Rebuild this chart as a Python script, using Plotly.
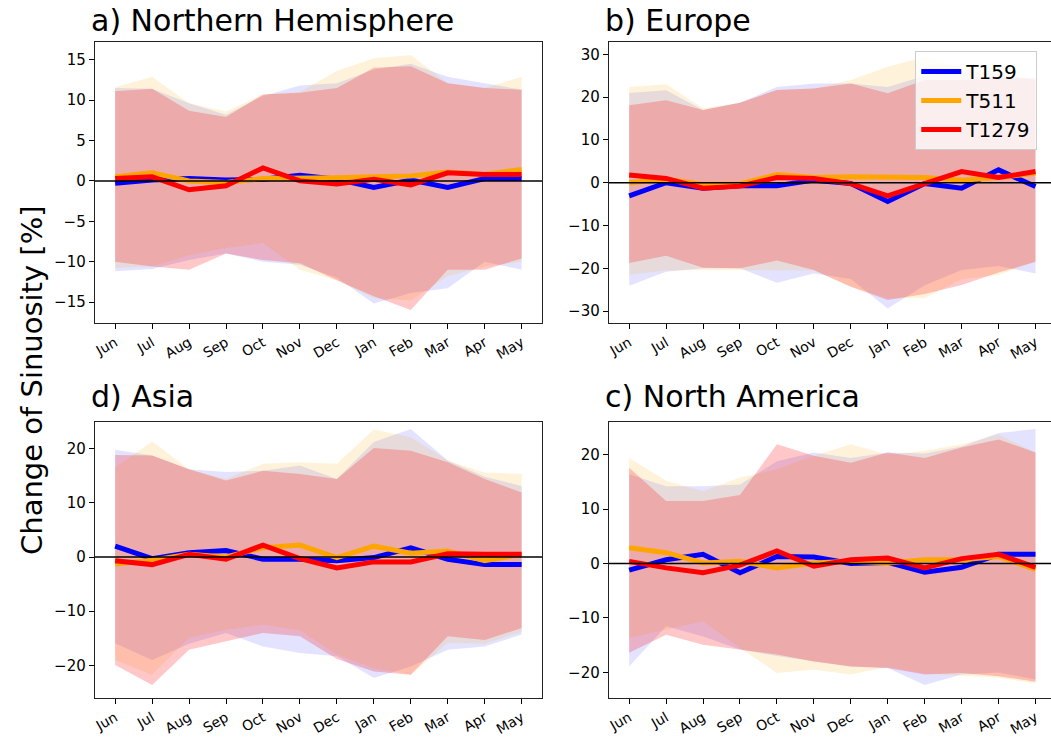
import plotly.graph_objects as go
from plotly.subplots import make_subplots

months = ["Jun", "Jul", "Aug", "Sep", "Oct", "Nov", "Dec", "Jan", "Feb", "Mar", "Apr", "May"]
models = ["T159", "T511", "T1279"]
panel_titles = ["a) Northern Hemisphere", "b) Europe", "d) Asia", "c) North America"]
y_tick_steps = [5, 10, 10, 10]
y_ranges = [[-17.6, 17.2], [-32.8, 32.9], [-26.0, 24.9], [-24.7, 26.0]]

# ---- a) Northern Hemisphere
nh_t159_mean = [-0.3, 0.1, 0.3, 0.1, 0.2, 0.7, 0.2, -0.8, 0.1, -0.8, 0.3, 0.3]
nh_t159_hi = [11.5, 11.4, 9.6, 8.2, 10.5, 11.8, 12.1, 13.8, 14.5, 12.9, 12.1, 11.3]
nh_t159_lo = [-11.2, -10.9, -9.8, -9.0, -10.0, -10.4, -12.0, -15.2, -13.9, -13.3, -10.0, -11.0]
nh_t511_mean = [0.5, 1.0, 0.0, -0.2, 0.3, 0.3, 0.4, 0.5, 0.6, 1.1, 0.8, 1.4]
nh_t511_hi = [11.6, 12.9, 9.6, 8.6, 10.7, 11.0, 13.6, 15.2, 15.6, 12.1, 11.5, 12.9]
nh_t511_lo = [-10.8, -10.6, -9.2, -8.3, -7.7, -11.0, -12.3, -14.5, -14.8, -11.8, -10.6, -10.0]
nh_t1279_mean = [0.3, 0.5, -1.1, -0.6, 1.6, 0.0, -0.4, 0.2, -0.5, 1.0, 0.8, 0.8]
nh_t1279_hi = [11.1, 11.4, 8.7, 7.9, 10.7, 10.9, 11.5, 14.0, 14.2, 12.1, 11.5, 11.3]
nh_t1279_lo = [-10.0, -10.6, -11.0, -9.0, -9.8, -10.2, -12.3, -14.3, -16.0, -11.0, -11.0, -9.6]

# ---- b) Europe
eu_t159_mean = [-3.1, 0.0, -1.3, -0.7, -0.7, 0.6, -0.2, -4.4, -0.2, -1.3, 3.0, -0.9]
eu_t159_hi = [21.0, 21.6, 17.0, 18.7, 22.4, 23.2, 23.2, 22.4, 25.0, 26.0, 25.5, 24.0]
eu_t159_lo = [-24.1, -20.8, -20.0, -20.0, -23.4, -21.2, -22.5, -29.4, -24.0, -20.4, -19.5, -21.2]
eu_t511_mean = [0.0, 0.8, -0.4, -0.3, 1.9, 1.2, 1.4, 1.2, 1.2, 0.6, 1.2, 2.2]
eu_t511_hi = [22.4, 23.0, 17.4, 18.7, 21.7, 22.0, 24.0, 27.1, 29.4, 27.0, 25.0, 24.0]
eu_t511_lo = [-21.5, -20.5, -20.4, -20.4, -20.5, -20.5, -24.3, -27.0, -27.0, -22.5, -21.6, -18.5]
eu_t1279_mean = [1.8, 1.0, -1.3, -0.8, 1.2, 1.0, -0.2, -3.1, -0.2, 2.6, 1.2, 2.6]
eu_t1279_hi = [18.1, 19.3, 17.0, 18.7, 21.7, 22.0, 23.2, 20.9, 24.0, 24.0, 24.5, 24.4]
eu_t1279_lo = [-18.8, -17.1, -19.9, -20.0, -18.2, -20.4, -24.3, -27.4, -26.0, -23.9, -21.0, -18.5]

# ---- d) Asia
as_t159_mean = [2.0, -0.3, 0.8, 1.2, -0.4, -0.4, -0.7, -0.1, 1.7, -0.4, -1.4, -1.4]
as_t159_hi = [19.8, 18.7, 16.2, 15.7, 15.9, 16.9, 14.4, 21.2, 23.6, 17.8, 14.8, 13.1]
as_t159_lo = [-15.9, -19.0, -16.0, -14.0, -16.5, -17.7, -18.3, -22.3, -20.2, -17.1, -16.5, -14.3]
as_t511_mean = [-1.3, -0.6, 0.5, 0.0, 1.7, 2.2, -0.1, 2.0, 0.7, 1.1, -0.7, 0.5]
as_t511_hi = [16.5, 21.3, 16.2, 14.4, 17.2, 17.5, 17.2, 23.5, 22.1, 17.8, 15.6, 15.3]
as_t511_lo = [-19.0, -21.7, -14.9, -13.4, -12.5, -13.5, -18.0, -20.5, -21.7, -15.8, -16.0, -13.8]
as_t1279_mean = [-0.7, -1.4, 0.5, -0.4, 2.2, -0.3, -2.0, -0.9, -0.9, 0.6, 0.5, 0.5]
as_t1279_hi = [18.8, 18.7, 16.2, 14.1, 15.9, 15.3, 14.4, 20.1, 19.6, 17.5, 14.4, 11.9]
as_t1279_lo = [-19.9, -23.6, -17.1, -15.6, -14.0, -14.6, -18.8, -21.1, -21.7, -14.6, -15.3, -13.1]

# ---- c) North America
na_t159_mean = [-1.2, 0.7, 1.7, -1.7, 1.3, 1.2, 0.0, 0.2, -1.6, -0.7, 1.7, 1.7]
na_t159_hi = [16.4, 14.2, 14.2, 14.5, 18.8, 20.4, 19.4, 20.4, 20.2, 21.5, 24.0, 24.7]
na_t159_lo = [-18.9, -11.5, -13.4, -15.8, -17.0, -18.0, -18.9, -19.2, -22.3, -20.4, -20.0, -21.3]
na_t511_mean = [2.9, 2.0, 0.1, 0.4, -0.8, 0.1, 0.4, 0.1, 0.7, 0.7, 1.3, -1.1]
na_t511_hi = [19.4, 15.2, 13.3, 15.8, 17.3, 19.8, 21.9, 20.0, 20.7, 21.9, 23.7, 20.4]
na_t511_lo = [-13.7, -12.1, -10.6, -15.5, -20.1, -19.5, -20.4, -19.0, -20.2, -20.6, -21.0, -22.0]
na_t1279_mean = [0.4, -0.8, -1.7, -0.3, 2.3, -0.5, 0.7, 1.0, -0.8, 0.9, 1.7, -0.7]
na_t1279_hi = [17.6, 11.5, 11.5, 12.6, 21.9, 19.8, 18.5, 20.4, 19.4, 21.3, 22.8, 20.4]
na_t1279_lo = [-16.4, -13.1, -14.9, -15.8, -16.7, -18.0, -18.9, -19.2, -20.4, -20.1, -20.7, -21.7]

line_colors = {"T159": "rgb(0,0,255)", "T511": "rgb(255,165,0)", "T1279": "rgb(255,0,0)"}
fill_colors = {"T159": "rgba(0,0,255,0.11)", "T511": "rgba(255,165,0,0.14)", "T1279": "rgba(255,0,0,0.22)"}

panels = [
    {"T159": (nh_t159_mean, nh_t159_hi, nh_t159_lo), "T511": (nh_t511_mean, nh_t511_hi, nh_t511_lo),
     "T1279": (nh_t1279_mean, nh_t1279_hi, nh_t1279_lo)},
    {"T159": (eu_t159_mean, eu_t159_hi, eu_t159_lo), "T511": (eu_t511_mean, eu_t511_hi, eu_t511_lo),
     "T1279": (eu_t1279_mean, eu_t1279_hi, eu_t1279_lo)},
    {"T159": (as_t159_mean, as_t159_hi, as_t159_lo), "T511": (as_t511_mean, as_t511_hi, as_t511_lo),
     "T1279": (as_t1279_mean, as_t1279_hi, as_t1279_lo)},
    {"T159": (na_t159_mean, na_t159_hi, na_t159_lo), "T511": (na_t511_mean, na_t511_hi, na_t511_lo),
     "T1279": (na_t1279_mean, na_t1279_hi, na_t1279_lo)},
]

W, H = 1051, 738
fig = make_subplots(rows=2, cols=2)
positions = [(1, 1), (1, 2), (2, 1), (2, 2)]
x_idx = list(range(len(months)))

for p, (data, (r, c)) in enumerate(zip(panels, positions)):
    for m in models:
        mean, hi, lo = data[m]
        fig.add_trace(go.Scatter(x=x_idx, y=hi, mode="lines", line=dict(width=0), hoverinfo="skip",
                                 showlegend=False), row=r, col=c)
        fig.add_trace(go.Scatter(x=x_idx, y=lo, mode="lines", line=dict(width=0), fill="tonexty",
                                 fillcolor=fill_colors[m], hoverinfo="skip", showlegend=False), row=r, col=c)
    for m in models:
        mean = data[m][0]
        fig.add_trace(go.Scatter(x=x_idx, y=mean, mode="lines", name=m,
                                 line=dict(color=line_colors[m], width=5),
                                 showlegend=(p == 1)), row=r, col=c)

# domains in pixels (left, right, top, bottom)
px_boxes = [(93, 541, 42, 323), (608, 1051, 42, 323), (93, 541, 422, 698), (608, 1051, 422, 698)]
x_ranges = [[-0.55, 11.55], [-0.55, 11.42], [-0.55, 11.55], [-0.55, 11.42]]
tickfont = dict(family="DejaVu Sans", size=14, color="black")
title_bottoms = [40, 40, 416, 416]

for i, (l, rr, t, b) in enumerate(px_boxes):
    xa = "xaxis" if i == 0 else f"xaxis{i+1}"
    ya = "yaxis" if i == 0 else f"yaxis{i+1}"
    right_panel = i in (1, 3)
    fig.layout[xa].update(domain=[l / W, rr / W], range=x_ranges[i], tickmode="array",
                          tickvals=x_idx, ticktext=months, tickangle=-30, ticks="outside",
                          ticklen=5, tickwidth=1, tickcolor="black", showline=True,
                          linecolor="#222", linewidth=1.2, mirror=True, showgrid=False,
                          zeroline=False, tickfont=tickfont)
    fig.layout[ya].update(domain=[1 - b / H, 1 - t / H], range=y_ranges[i], dtick=y_tick_steps[i],
                          tick0=0, ticks="outside", ticklen=5, tickwidth=1, tickcolor="black",
                          showline=True, linecolor="#222", linewidth=1.2,
                          mirror=(not right_panel), showgrid=False, zeroline=False,
                          tickfont=dict(family="DejaVu Sans", size=15, color="black"))
    xr = "x" if i == 0 else f"x{i+1}"
    yr = "y" if i == 0 else f"y{i+1}"
    fig.add_shape(type="line", xref=f"{xr} domain", yref=yr, x0=0, x1=1, y0=0, y1=0,
                  line=dict(color="black", width=1.5), layer="above")
    fig.add_annotation(text=panel_titles[i], xref="paper", yref="paper", x=(l - 6) / W,
                       y=1 - title_bottoms[i] / H, xanchor="left", yanchor="bottom", showarrow=False,
                       font=dict(family="DejaVu Sans", size=30, color="black"))

fig.add_annotation(text="Change of Sinuosity [%]", xref="paper", yref="paper", x=30 / W,
                   y=1 - 380 / H, textangle=-90, showarrow=False, xanchor="center", yanchor="middle",
                   font=dict(family="DejaVu Sans", size=29, color="black"))

fig.update_layout(
    width=W, height=H, margin=dict(l=0, r=0, t=0, b=0), paper_bgcolor="white",
    plot_bgcolor="white",
    legend=dict(x=915 / W, y=1 - 51 / H, xanchor="left", yanchor="top", traceorder="normal",
                bgcolor="rgba(255,255,255,0.8)", bordercolor="#cccccc", borderwidth=1,
                font=dict(family="DejaVu Sans", size=20, color="black"), itemwidth=40),
)

fig.write_html("out.html", config={"displayModeBar": False},
               post_script="document.body.style.margin='0';document.body.style.overflow='hidden';")
